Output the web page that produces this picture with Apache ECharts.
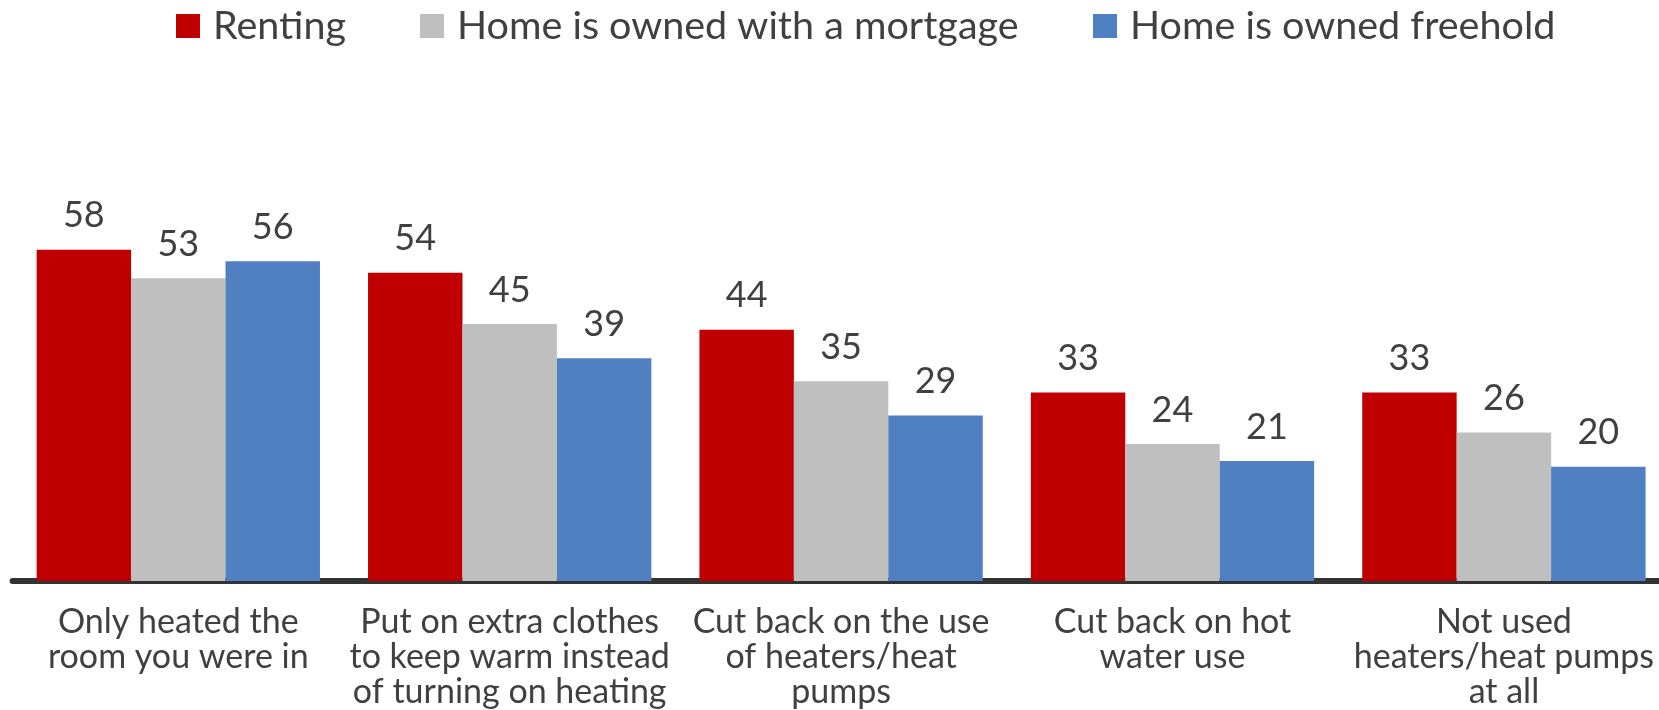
<!DOCTYPE html>
<html>
<head>
<meta charset="utf-8">
<script src="https://cdn.jsdelivr.net/npm/echarts@6/dist/echarts.min.js"></script>
<style>
html,body{margin:0;padding:0;background:#fff;}
#chart{width:1659px;height:710px;}
</style>
</head>
<body>
<div id="chart"></div>
<script>
const categories = [
  "Only heated the\nroom you were in",
  "Put on extra clothes\nto keep warm instead\nof turning on heating",
  "Cut back on the use\nof heaters/heat\npumps",
  "Cut back on hot\nwater use",
  "Not used\nheaters/heat pumps\nat all"
];
const seriesNames = ["Renting", "Home is owned with a mortgage", "Home is owned freehold"];
const renting = [58, 54, 44, 33, 33];
const mortgage = [53, 45, 35, 24, 26];
const freehold = [56, 39, 29, 21, 20];
const colors = ["#C00000", "#BFBFBF", "#4F80C2"];

const FONT = "Lato, 'Open Sans', sans-serif";
const TXT = "#404040";

const chart = echarts.init(document.getElementById('chart'));

function legendFor(i, left) {
  return {
    show: true,
    data: [{name: seriesNames[i], icon: 'rect'}],
    left: left,
    top: 5,
    padding: 0,
    itemWidth: 24,
    itemHeight: 24,
    textStyle: {fontFamily: FONT, fontSize: 39.5, color: TXT, lineHeight: 42, padding: [0, 0, 0, 8]}
  };
}

const dataSets = [renting, mortgage, freehold];
const series = dataSets.map((d, i) => ({
  name: seriesNames[i],
  type: 'bar',
  data: d,
  barGap: '0%',
  barCategoryGap: '14.5%',
  itemStyle: {color: colors[i]},
  label: {
    show: true,
    position: 'top',
    distance: 16,
    fontFamily: FONT,
    fontSize: 36,
    color: TXT
  }
}));

chart.setOption({
  animation: false,
  backgroundColor: '#fff',
  legend: [legendFor(0, 176), legendFor(1, 420), legendFor(2, 1093)],
  grid: {left: 12.6, width: 1657, top: 10, bottom: 129, containLabel: false, outerBoundsMode: 'none'},
  xAxis: {
    type: 'category',
    data: categories,
    offset: 3,
    axisLine: {show: true, lineStyle: {color: '#333333', width: 6}},
    axisTick: {show: false},
    axisLabel: {
      interval: 0,
      margin: 21,
      fontFamily: FONT,
      fontSize: 34,
      lineHeight: 35,
      color: TXT,
      align: 'center'
    }
  },
  yAxis: {
    type: 'value',
    min: 0,
    max: 100,
    show: false,
    splitLine: {show: false}
  },
  series: series
});
</script>
</body>
</html>
